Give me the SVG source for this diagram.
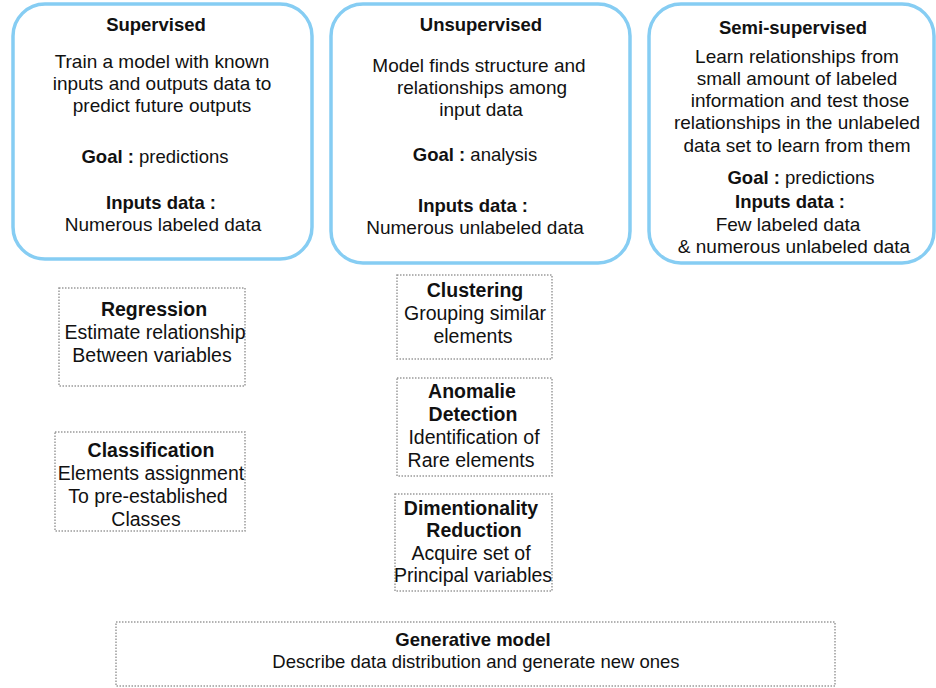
<svg xmlns="http://www.w3.org/2000/svg" width="936" height="688" viewBox="0 0 936 688">
<style>
text{font-family:"Liberation Sans",Arial,Helvetica,sans-serif;font-size:18.5px;fill:#111;text-anchor:middle}
.t{font-size:19px}
.s text{font-size:19.5px}
.b{font-weight:bold}
.big{fill:#fff;stroke:#86cdf3;stroke-width:3.5}
.dot{fill:#fff;stroke:#9a9a9a;stroke-width:1.5;stroke-dasharray:1.5 1.5}
</style>
<rect width="936" height="688" fill="#fff"/>
<g id="supervised">
<rect class="big" x="13" y="4" width="299" height="255" rx="32"/>
<text class="b" x="156" y="31">Supervised</text>
<text class="t" x="162" y="68">Train a model with known</text>
<text class="t" x="162" y="90">inputs and outputs data to</text>
<text class="t" x="162" y="112">predict future outputs</text>
<text x="155" y="163"><tspan class="b">Goal :</tspan> predictions</text>
<text class="b" x="161" y="209">Inputs data :</text>
<text class="t" x="163" y="231">Numerous labeled data</text>
</g>
<g id="unsupervised">
<rect class="big" x="331" y="4" width="299" height="259" rx="32"/>
<text class="b" x="481" y="31">Unsupervised</text>
<text class="t" x="479" y="72">Model finds structure and</text>
<text class="t" x="482" y="94">relationships among</text>
<text class="t" x="481" y="116">input data</text>
<text x="475" y="161"><tspan class="b">Goal :</tspan> analysis</text>
<text class="b" x="473" y="212">Inputs data :</text>
<text class="t" x="475" y="234">Numerous unlabeled data</text>
</g>
<g id="semi-supervised">
<rect class="big" x="649" y="4" width="285" height="259" rx="32"/>
<text class="b" x="793" y="34">Semi-supervised</text>
<text class="t" x="797" y="63">Learn relationships from</text>
<text class="t" x="797" y="85">small amount of labeled</text>
<text class="t" x="800" y="107">information and test those</text>
<text class="t" x="797" y="129">relationships in the unlabeled</text>
<text class="t" x="797" y="152">data set to learn from them</text>
<text x="801" y="184"><tspan class="b">Goal :</tspan> predictions</text>
<text class="b" x="790" y="208">Inputs data :</text>
<text class="t" x="788" y="231">Few labeled data</text>
<text class="t" x="794" y="253">&amp; numerous unlabeled data</text>
</g>
<g id="regression" class="s">
<rect class="dot" x="59" y="288" width="186" height="98"/>
<text class="b" x="154" y="316">Regression</text>
<text x="155" y="339">Estimate relationship</text>
<text x="152" y="362">Between variables</text>
</g>
<g id="classification" class="s">
<rect class="dot" x="55" y="432" width="190" height="99"/>
<text class="b" x="151" y="457">Classification</text>
<text x="151" y="480">Elements assignment</text>
<text x="148" y="503">To pre-established</text>
<text x="146" y="526">Classes</text>
</g>
<g id="clustering" class="s">
<rect class="dot" x="397" y="275" width="155" height="84"/>
<text class="b" x="475" y="297">Clustering</text>
<text x="475" y="320">Grouping similar</text>
<text x="473" y="343">elements</text>
</g>
<g id="anomalie" class="s">
<rect class="dot" x="397" y="378" width="155" height="98"/>
<text class="b" x="472" y="398">Anomalie</text>
<text class="b" x="473" y="421">Detection</text>
<text x="474" y="444">Identification of</text>
<text x="471" y="467">Rare elements</text>
</g>
<g id="dimentionality" class="s">
<rect class="dot" x="395" y="494" width="157" height="97"/>
<text class="b" x="471" y="515">Dimentionality</text>
<text class="b" x="474" y="537">Reduction</text>
<text x="471" y="560">Acquire set of</text>
<text x="473" y="582">Principal variables</text>
</g>
<g id="generative">
<rect class="dot" x="116" y="622" width="719" height="64"/>
<text class="b" x="473" y="646">Generative model</text>
<text x="476" y="668">Describe data distribution and generate new ones</text>
</g>
<g id="connectors"></g>
</svg>
